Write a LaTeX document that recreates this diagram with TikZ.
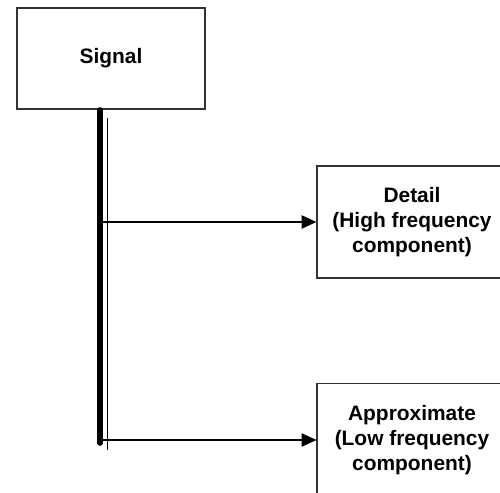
\documentclass[tikz,border=0pt]{standalone}
\usepackage{fontspec}
\setmainfont{Liberation Sans}
\usepackage{tikz}
\usetikzlibrary{arrows.meta,positioning,calc}

\tikzset{
  block/.style={draw=black!80, line width=0.6pt, fill=white, align=center,
                font=\bfseries\fontsize{11.9}{14.3}\selectfont},
  trunk/.style={line width=3.2pt, line cap=round},
  branch/.style={line width=1.1pt, -{Triangle[length=8.5pt,width=7.5pt]}}
}

\begin{document}
\begin{tikzpicture}[x=0.02cm, y=-0.02cm]
        \clip (0,0) rectangle (500,493);
        \fill[white] (0,0) rectangle (500,493);
        % Boxes
        \node[block, minimum width=3.76cm, minimum height=2.02cm]
          (signal) at (111,58.5) {Signal};
        \node[block, minimum width=3.8cm, minimum height=2.24cm]
          (detail) at (412,222) {Detail\\(High frequency\\component)};
        \node[block, minimum width=3.8cm, minimum height=2.26cm]
          (approx) at (412,440) {Approximate\\(Low frequency\\component)};
        % Trunk
        \coordinate (tstart) at (100,110);
        \coordinate (tend) at (100,443);
        \draw[trunk] (tstart) -- (tend);
        \draw[line width=0.4pt] (107,118) -- (107,450);
        % Branches
        \draw[branch] (tstart |- detail.west) -- (detail.west);
        \draw[branch] (tstart |- approx.west) -- (approx.west);
      \end{tikzpicture}
\end{document}
